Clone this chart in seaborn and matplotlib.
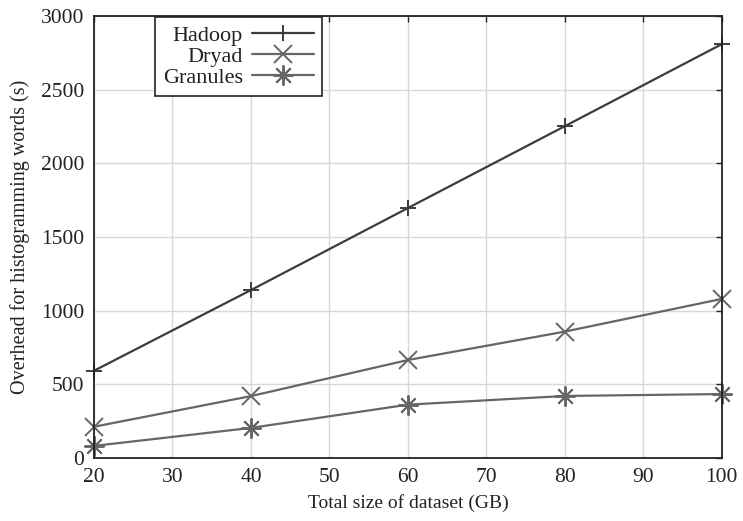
import matplotlib
matplotlib.use("Agg")
import matplotlib.pyplot as plt
import seaborn as sns
import pandas as pd

sizes_gb = [20, 40, 60, 80, 100]
hadoop = [592, 1140, 1697, 2253, 2810]
dryad = [212, 420, 665, 858, 1080]
granules = [82, 204, 362, 421, 434]
series_names = ["Hadoop", "Dryad", "Granules"]
x_ticks = [20, 30, 40, 50, 60, 70, 80, 90, 100]
y_ticks = [0, 500, 1000, 1500, 2000, 2500, 3000]

sns.set_theme(style="white")
plt.rcParams["font.family"] = ["Liberation Serif", "DejaVu Serif"]
plt.rcParams["font.size"] = 14

df = pd.DataFrame({
    "size": sizes_gb * 3,
    "overhead": hadoop + dryad + granules,
    "system": sum([[n] * len(sizes_gb) for n in series_names], []),
})

fig = plt.figure(figsize=(7.43, 5.21), dpi=100)
ax = fig.add_axes([0.1265, 0.121, 0.845, 0.848])

styles = {
    "Hadoop": dict(color="#3c3c3c", marker="+", ms=12, mew=1.4),
    "Dryad": dict(color="#666666", marker="x", ms=13.5, mew=1.4),
    "Granules": dict(color="#666666", marker=(8, 2, 0), ms=14.5, mew=1.4),
}
for name in series_names:
    st = styles[name]
    sns.lineplot(data=df[df["system"] == name], x="size", y="overhead", ax=ax,
                 color=st["color"], marker=st["marker"], markersize=st["ms"],
                 markeredgewidth=st["mew"], markeredgecolor=st["color"],
                 linewidth=1.6, label=name, clip_on=False)

ax.set_xlim(20, 100)
ax.set_ylim(0, 3000)
ax.set_xticks(x_ticks)
ax.set_yticks(y_ticks)
ax.grid(True, color="#d8d8d8", linewidth=1.0)
ax.set_axisbelow(True)
for sp in ax.spines.values():
    sp.set_color("#222222")
    sp.set_linewidth(1.3)
ax.tick_params(direction="in", length=4, width=1.0, color="#222222",
               top=True, right=True, labelsize=15.5, labelcolor="#222222", pad=7)
ax.set_xlabel("Total size of dataset (GB)", fontsize=14, color="#222222", labelpad=5)
ax.set_ylabel("Overhead for histogramming words (s)", fontsize=14.5, color="#222222", labelpad=8)

leg = ax.legend(loc="upper left", bbox_to_anchor=(0.097, 0.997), markerfirst=False,
                frameon=True, fancybox=False, edgecolor="#222222", framealpha=1,
                handlelength=2.8, handletextpad=0.4, labelspacing=0.02,
                borderpad=0.35, borderaxespad=0, fontsize=16)
leg.get_frame().set_linewidth(1.2)
for t in leg.get_texts():
    t.set_ha("right")
    t.set_color("#222222")
leg._legend_box.align = "right"

fig.savefig("out.png", dpi=100)
